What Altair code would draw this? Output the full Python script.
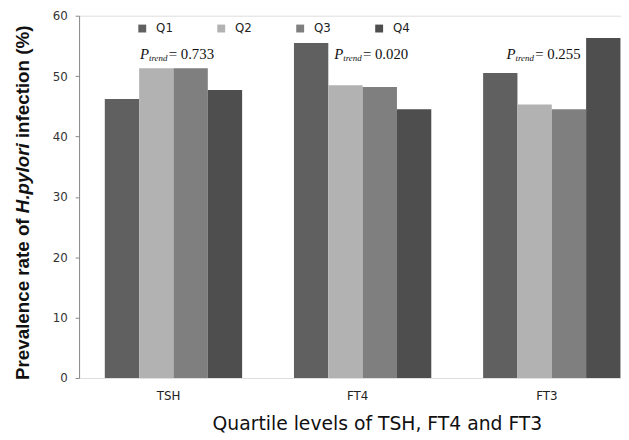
import altair as alt
import pandas as pd

groups = ["TSH", "FT4", "FT3"]
quartiles = ["Q1", "Q2", "Q3", "Q4"]
tsh_vals = [46.2, 51.3, 51.3, 47.7]
ft4_vals = [55.5, 48.5, 48.2, 44.5]
ft3_vals = [50.5, 45.3, 44.5, 56.3]
p_trend = ["0.733", "0.020", "0.255"]
colors = ["#606060", "#b2b2b2", "#7f7f7f", "#4e4e4e"]
y_ticks = [0, 10, 20, 30, 40, 50, 60]

rows = []
for g, vals in zip(groups, [tsh_vals, ft4_vals, ft3_vals]):
    for q, v in zip(quartiles, vals):
        rows.append({"group": g, "quartile": q, "value": v})
df = pd.DataFrame(rows)
ann = pd.DataFrame({"group": groups, "p": p_trend})

xscale = alt.Scale(domain=groups, range=[0, 574.5], paddingInner=0.274, paddingOuter=0.136)

bars = alt.Chart(df).mark_bar().encode(
    x=alt.X("group:N", sort=groups, scale=xscale,
            axis=alt.Axis(title="Quartile levels of TSH, FT4 and FT3", labelAngle=0, ticks=False,
                          domain=False, labelPadding=13, labelOffset=-5, labelFontSize=12,
                          labelFont="DejaVu Sans", labelColor="#222", titleFont="DejaVu Sans",
                          titleFontSize=19, titleFontWeight="normal", titleColor="#111",
                          titleX=301.7, titleY=52, titleBaseline="alphabetic", titleAlign="center")),
    xOffset=alt.XOffset("quartile:N", sort=quartiles, scale=alt.Scale(paddingInner=0, paddingOuter=0)),
    y=alt.Y("value:Q", scale=alt.Scale(domain=[0, 60], nice=False),
            axis=alt.Axis(values=y_ticks, title=None, grid=False, tickSize=4, labelPadding=8,
                          domainColor="#888888", tickColor="#888888", labelFontSize=12,
                          labelFont="DejaVu Sans", labelColor="#333333")),
    color=alt.Color("quartile:N", sort=quartiles,
                    scale=alt.Scale(domain=quartiles, range=colors),
                    legend=alt.Legend(orient="none", legendX=58, legendY=7, direction="horizontal",
                                      title=None, symbolType="square", symbolSize=64,
                                      symbolStrokeWidth=0, symbolOpacity=1, labelFontSize=12,
                                      labelFont="DejaVu Sans", labelOffset=8, columnPadding=42,
                                      padding=0, labelColor="#222222")),
)

layers = [bars]
p_dx = {"TSH": -33.8, "FT4": -28.7, "FT3": -45.8}
for g in groups:
    base = alt.Chart(ann).transform_filter(alt.datum.group == g)
    enc = dict(x=alt.X("group:N", sort=groups, scale=xscale), y=alt.value(44))
    d = p_dx[g]
    layers.append(base.mark_text(text="P", font="Liberation Serif", fontStyle="italic", fontSize=15,
                                 align="left", baseline="alphabetic", dx=d, color="#111").encode(**enc))
    layers.append(base.mark_text(text="trend", font="Liberation Serif", fontStyle="italic", fontSize=9,
                                 align="left", baseline="alphabetic", dx=d + 9, dy=2, color="#111").encode(**enc))
    layers.append(base.transform_calculate(lab="'= ' + datum.p").mark_text(
        font="Liberation Serif", fontSize=15, align="left", baseline="alphabetic",
        dx=d + 29, color="#111").encode(text="lab:N", **enc))

title_parts = [("Prevalence rate of", "normal", 369), ("H.pylori", "italic", 200), ("infection (%)", "normal", 124)]
for txt, style, ypos in title_parts:
    layers.append(alt.Chart(pd.DataFrame({"t": [txt]})).mark_text(
        font="Liberation Sans", fontWeight="bold", fontStyle=style, fontSize=19, angle=270,
        align="left", baseline="alphabetic", color="#111").encode(
        text="t:N", x=alt.value(-51), y=alt.value(ypos)))

chart = alt.layer(*layers).properties(
    width=549, height=367,
    autosize=alt.AutoSizeParams(type="none"),
    padding={"left": 72, "top": 5, "right": 0, "bottom": 59},
).configure_view(stroke=None).configure(background="white")

chart.save("out.html", embed_options={"renderer": "svg", "actions": False})
